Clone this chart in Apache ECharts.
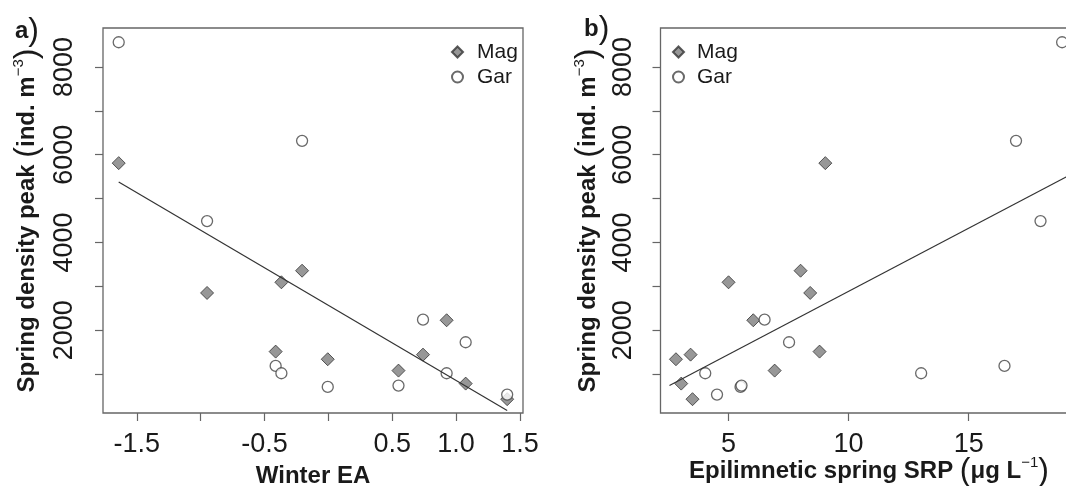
<!DOCTYPE html>
<html><head><meta charset="utf-8">
<script src="https://cdn.jsdelivr.net/npm/echarts@6/dist/echarts.min.js"></script>
<style>html,body{margin:0;padding:0;background:#fff;overflow:hidden;width:1066px;height:486px}#c{width:1082px;height:486px}</style>
</head><body><div id="c"></div>
<script>
// ---- data ----
const winterEA   = [-1.642, -0.950, -0.413, -0.368, -0.206, -0.005, 0.549, 0.741, 0.926, 1.075, 1.400];
const magDensity = [5808, 2850, 1514, 3093, 3357, 1340, 1081, 1445, 2228, 785, 430];
const garDensity = [8562, 4488, 1188, 1021, 6316, 710, 740, 2242, 1021, 1727, 535];
const srpMag     = [9.03, 8.40, 8.79, 5.00, 8.00, 2.81, 6.92, 3.42, 6.03, 3.03, 3.50];
const srpGar     = [18.89, 17.99, 16.49, 13.02, 16.97, 5.50, 5.54, 6.50, 4.03, 7.52, 4.52];
const fitA_x = [-1.642, 1.400];
const fitA_y = [5380, 172];
const fitB_x = [2.54, 19.53];
const fitB_y = [740, 5628];
// ---- axis ticks / labels ----
const yTicks   = [1000, 2000, 3000, 4000, 5000, 6000, 7000, 8000];
const yLabels  = [2000, 4000, 6000, 8000];
const xTicksA  = [-1.5, -1.0, -0.5, 0, 0.5, 1.0, 1.5];
const xLabelsA = [-1.5, -0.5, 0.5, 1.0, 1.5];
const xTicksB  = [5, 10, 15];
const xLabelsB = [5, 10, 15];
const seriesNames = ['Mag', 'Gar'];

const FONT = "'Liberation Sans', Arial, Helvetica, sans-serif";
const TXT = '#1a1a1a';
const AX = '#666';

const zip = (xs, ys) => xs.map((x, i) => [x, ys[i]]);

function yAxisCfg(gi, gap, margin) {
  return {
    type: 'value', gridIndex: gi, min: 115, max: 8887,
    axisLine: { show: false, onZero: false },
    splitLine: { show: false },
    axisTick: { show: true, length: 8, inside: false, customValues: yTicks, lineStyle: { color: AX, width: 1.2 } },
    axisLabel: { show: true, customValues: yLabels, rotate: 90, margin: margin, fontSize: 27, color: TXT, fontFamily: FONT,
                 formatter: v => String(v) },
    name: '{b|Spring density peak }{p|(}{b|ind. m}{s|−3}{p|)}',
    nameLocation: 'middle', nameGap: gap,
    nameTextStyle: {
      color: TXT, fontFamily: FONT,
      rich: {
        b: { fontSize: 24, fontWeight: 'bold', fontFamily: FONT, color: TXT },
        p: { fontSize: 32, fontWeight: 'normal', fontFamily: FONT, color: TXT },
        s: { fontSize: 15, fontWeight: 'normal', fontFamily: FONT, color: TXT, verticalAlign: 'top' }
      }
    }
  };
}

const option = {
  backgroundColor: '#fff',
  animation: false,
  textStyle: { fontFamily: FONT },
  title: [
    { text: '{a|a}{p|)}', left: 10, top: 10, textStyle: { rich: {
        a: { fontSize: 24, fontWeight: 'bold', fontFamily: FONT, color: TXT },
        p: { fontSize: 32, fontWeight: 'normal', fontFamily: FONT, color: TXT } } } },
    { text: '{a|b}{p|)}', left: 579, top: 8, textStyle: { rich: {
        a: { fontSize: 24, fontWeight: 'bold', fontFamily: FONT, color: TXT },
        p: { fontSize: 32, fontWeight: 'normal', fontFamily: FONT, color: TXT } } } }
  ],
  grid: [
    { left: 103, top: 28, width: 420, height: 385, show: true, borderColor: AX, borderWidth: 1.3,
      backgroundColor: 'transparent', outerBoundsMode: 'none' },
    { left: 660.5, top: 28, width: 417, height: 385, show: true, borderColor: AX, borderWidth: 1.3,
      backgroundColor: 'transparent', outerBoundsMode: 'none' }
  ],
  legend: [
    { data: [{ name: seriesNames[0], icon: 'diamond' }, { name: seriesNames[1], icon: 'circle' }],
      orient: 'vertical', left: 446, top: 36, itemWidth: 11, itemHeight: 11, itemGap: 3,
      selectedMode: false,
      textStyle: { fontSize: 21, lineHeight: 22, color: TXT, fontFamily: FONT, padding: [0, 0, 0, 9] } },
    { data: [{ name: seriesNames[0], icon: 'diamond' }, { name: seriesNames[1], icon: 'circle' }],
      orient: 'vertical', left: 667, top: 36, itemWidth: 11, itemHeight: 11, itemGap: 3,
      selectedMode: false,
      textStyle: { fontSize: 21, lineHeight: 22, color: TXT, fontFamily: FONT, padding: [0, 0, 0, 8] } }
  ],
  xAxis: [
    { type: 'value', gridIndex: 0, min: -1.765, max: 1.524,
      axisLine: { show: false, onZero: false }, splitLine: { show: false },
      axisTick: { show: true, length: 8, customValues: xTicksA, lineStyle: { color: AX, width: 1.2 } },
      axisLabel: { show: true, customValues: xLabelsA, margin: 18, fontSize: 27, color: TXT, fontFamily: FONT,
                   formatter: v => v.toFixed(1) },
      name: 'Winter EA', nameLocation: 'middle', nameGap: 51, nameMoveOverlap: false,
      nameTextStyle: { fontSize: 24, fontWeight: 'bold', color: TXT, fontFamily: FONT } },
    { type: 'value', gridIndex: 1, min: 2.167, max: 19.53,
      axisLine: { show: false, onZero: false }, splitLine: { show: false },
      axisTick: { show: true, length: 8, customValues: xTicksB, lineStyle: { color: AX, width: 1.2 } },
      axisLabel: { show: true, customValues: xLabelsB, margin: 18, fontSize: 27, color: TXT, fontFamily: FONT },
      name: '{b|Epilimnetic spring SRP }{p|(}{b|μg L}{s|−1}{p|)}', nameLocation: 'middle', nameGap: 42,
      nameMoveOverlap: false,
      nameTextStyle: { color: TXT, fontFamily: FONT, rich: {
        b: { fontSize: 24, fontWeight: 'bold', fontFamily: FONT, color: TXT },
        p: { fontSize: 32, fontWeight: 'normal', fontFamily: FONT, color: TXT },
        s: { fontSize: 15, fontWeight: 'normal', fontFamily: FONT, color: TXT, verticalAlign: 'top' } } } }
  ],
  yAxis: [yAxisCfg(0, 60, 25), yAxisCfg(1, 56, 23)],
  series: [
    { name: seriesNames[0], type: 'scatter', xAxisIndex: 0, yAxisIndex: 0, symbol: 'diamond', symbolSize: 13,
      itemStyle: { color: '#7d7d7d', borderColor: '#333', borderWidth: 1 }, data: zip(winterEA, magDensity), z: 3 },
    { name: seriesNames[1], type: 'scatter', xAxisIndex: 0, yAxisIndex: 0, symbol: 'circle', symbolSize: 11,
      itemStyle: { color: '#fff', borderColor: '#444', borderWidth: 1.3 }, data: zip(winterEA, garDensity), z: 4 },
    { name: 'fitA', type: 'line', xAxisIndex: 0, yAxisIndex: 0, showSymbol: false, silent: true,
      lineStyle: { color: '#333', width: 1.2 }, data: zip(fitA_x, fitA_y), z: 5 },
    { name: seriesNames[0], type: 'scatter', xAxisIndex: 1, yAxisIndex: 1, symbol: 'diamond', symbolSize: 13,
      itemStyle: { color: '#7d7d7d', borderColor: '#333', borderWidth: 1 }, data: zip(srpMag, magDensity), z: 3 },
    { name: seriesNames[1], type: 'scatter', xAxisIndex: 1, yAxisIndex: 1, symbol: 'circle', symbolSize: 11,
      itemStyle: { color: '#fff', borderColor: '#444', borderWidth: 1.3 }, data: zip(srpGar, garDensity), z: 4 },
    { name: 'fitB', type: 'line', xAxisIndex: 1, yAxisIndex: 1, showSymbol: false, silent: true,
      lineStyle: { color: '#333', width: 1.2 }, data: zip(fitB_x, fitB_y), z: 5 }
  ]
};
const chart = echarts.init(document.getElementById('c'), null, { renderer: 'canvas' });
chart.setOption(option);
</script></body></html>
